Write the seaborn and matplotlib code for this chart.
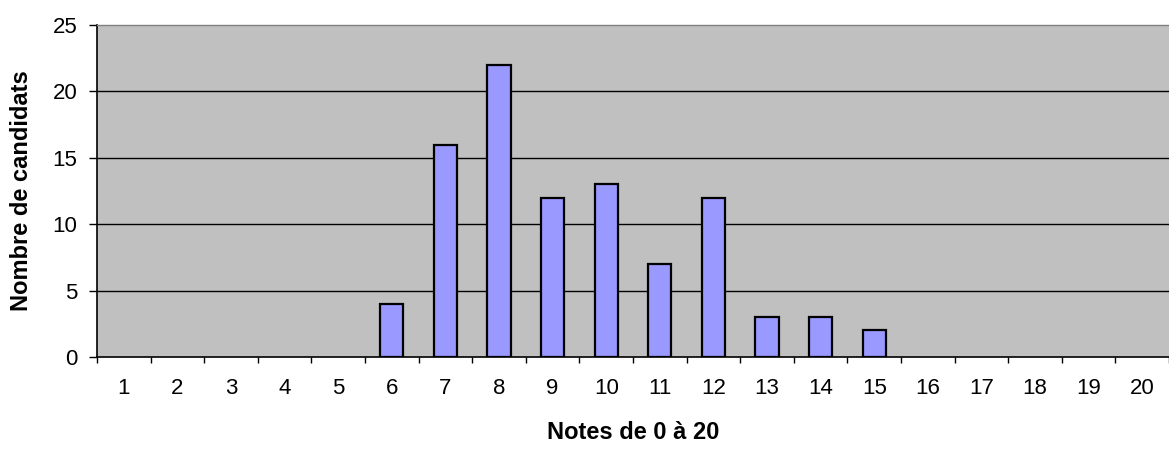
import matplotlib

matplotlib.use("Agg")
import matplotlib.pyplot as plt
import numpy as np
import pandas as pd
import seaborn as sns

# notes 1..20 and number of candidates per note
notes = [str(n) for n in range(1, 21)]
candidats = [0, 0, 0, 0, 0, 4, 16, 22, 12, 13, 7, 12, 3, 3, 2, 0, 0, 0, 0, 0]
y_ticks = [0, 5, 10, 15, 20, 25]

sns.set_style("white")
plt.rcParams["font.family"] = ["Liberation Sans", "DejaVu Sans"]
plt.rcParams["text.color"] = "black"
plt.rcParams["xtick.color"] = "black"
plt.rcParams["ytick.color"] = "black"
plt.rcParams["axes.labelcolor"] = "black"

# empty notes are not drawn (no flat bar outline on the axis)
df = pd.DataFrame({"note": notes, "candidats": candidats})
df["candidats"] = df["candidats"].replace(0, np.nan)

fig = plt.figure(figsize=(11.69, 4.5), dpi=100)
ax = fig.add_axes([97 / 1169, 1 - 357 / 450, (1169 - 97) / 1169, (357 - 25) / 450])
ax.set_facecolor("#C0C0C0")

sns.barplot(data=df, x="note", y="candidats", color="#9999FF", saturation=1,
            width=0.43, edgecolor="black", linewidth=1.6, ax=ax, zorder=3)

ax.set_xlim(-0.5, 19.5)
ax.set_ylim(0, 25)
ax.set_yticks(y_ticks)
for y in y_ticks[1:-1]:
    ax.axhline(y, color="black", linewidth=1, zorder=1)

# tick marks between categories, labels centred on them
ax.set_xticks(np.arange(-0.5, 20, 1), minor=True)
ax.tick_params(axis="x", which="major", bottom=True, length=0, pad=15, labelsize=16)
ax.tick_params(axis="x", which="minor", bottom=True, length=4.5, width=1, direction="out")
ax.tick_params(axis="y", left=True, length=5.8, width=1, direction="out", pad=8.5, labelsize=16)

ax.spines["top"].set_color("#808080")
ax.spines["top"].set_linewidth(1)
ax.spines["right"].set_visible(False)
for side in ["left", "bottom"]:
    ax.spines[side].set_color("black")
    ax.spines[side].set_linewidth(1.2)

ax.set_xlabel("Notes de 0 à 20", fontsize=17, fontweight="bold", labelpad=16.3)
ax.set_ylabel("Nombre de candidats", fontsize=17, fontweight="bold", labelpad=14)

fig.savefig("out.png", dpi=100)
